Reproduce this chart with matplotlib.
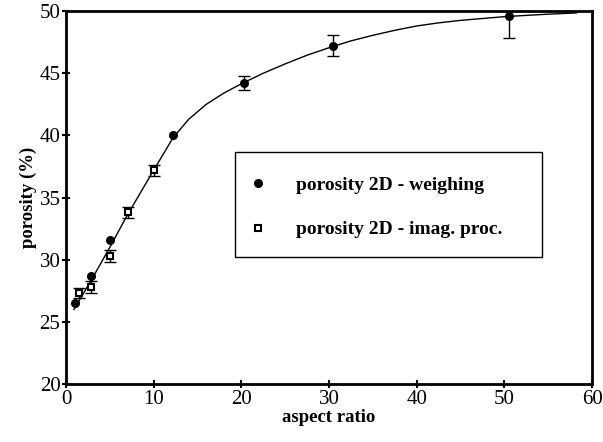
import matplotlib
matplotlib.use("Agg")
import matplotlib.pyplot as plt
from matplotlib.patches import Rectangle

# weighing (filled circles)
w_x = [1.0, 2.9, 5.0, 12.2, 20.3, 30.5, 50.5]
w_y = [26.5, 28.7, 31.6, 40.0, 44.2, 47.2, 49.6]
w_err = [0.0, 0.0, 0.0, 0.0, 0.55, 0.85, 1.8]

# image processing (open squares)
i_x = [1.5, 2.9, 5.0, 7.1, 10.0]
i_y = [27.3, 27.8, 30.3, 33.8, 37.2]
i_err = [0.4, 0.45, 0.45, 0.45, 0.45]

# fitted curve
fit_x = [0.9, 2, 3, 5, 7, 10, 12.2, 14, 16, 18, 20, 22.5, 25, 27.5, 30, 32.5, 35,
         37.5, 40, 42.5, 45, 47.5, 50, 52.5, 55, 58.2]
fit_y = [26.0, 27.3, 28.5, 31.0, 33.6, 37.2, 39.8, 41.3, 42.5, 43.4, 44.15, 45.0,
         45.75, 46.45, 47.05, 47.6, 48.05, 48.45, 48.8, 49.05, 49.25, 49.4, 49.55,
         49.65, 49.75, 49.85]

plt.rcParams['font.family'] = ['Liberation Serif', 'DejaVu Serif']

fig = plt.figure(figsize=(6.03, 4.42), dpi=100)
ax = fig.add_axes([0.1095, 0.1312, 0.8723, 0.8438])

ax.plot(fit_x, fit_y, color='black', lw=1.0)

# only draw bars where there is an error to show
wb = [k for k, e in enumerate(w_err) if e > 0]
ax.errorbar([w_x[k] for k in wb], [w_y[k] for k in wb], yerr=[w_err[k] for k in wb],
            fmt='none', ecolor='black', elinewidth=1, capsize=4)
ax.errorbar(i_x, i_y, yerr=i_err, fmt='none', ecolor='black', elinewidth=1, capsize=4)
ax.plot(w_x, w_y, 'o', color='black', ms=5.5, label='porosity 2D - weighing', clip_on=False)
ax.plot(i_x, i_y, 's', mfc='white', mec='black', mew=1.5, ms=5,
        label='porosity 2D - imag. proc.')

ax.set_xlim(0, 60)
ax.set_ylim(20, 50)
ax.set_xticks(range(0, 61, 10))
ax.set_yticks(range(20, 51, 5))
ax.tick_params(direction='inout', length=6, width=1.5, labelsize=15, pad=1)
for s in ax.spines.values():
    s.set_linewidth(2)

ax.set_xlabel('aspect ratio', fontsize=13.5, fontweight='bold', labelpad=0)
ax.set_ylabel('porosity (%)', fontsize=13.5, fontweight='bold', labelpad=2)

# legend box drawn separately so its padding matches the original
ax.add_patch(Rectangle((0.321, 0.340), 0.584, 0.282, transform=ax.transAxes,
                       fill=False, edgecolor='black', lw=1.0, zorder=4))
ax.legend(loc='upper left', bbox_to_anchor=(0.3466, 0.558), frameon=False,
          prop={'weight': 'bold', 'size': 14}, labelspacing=1.4, borderpad=0,
          handlelength=1.0, handletextpad=1.45, borderaxespad=0)

fig.savefig('out.png', dpi=100)
